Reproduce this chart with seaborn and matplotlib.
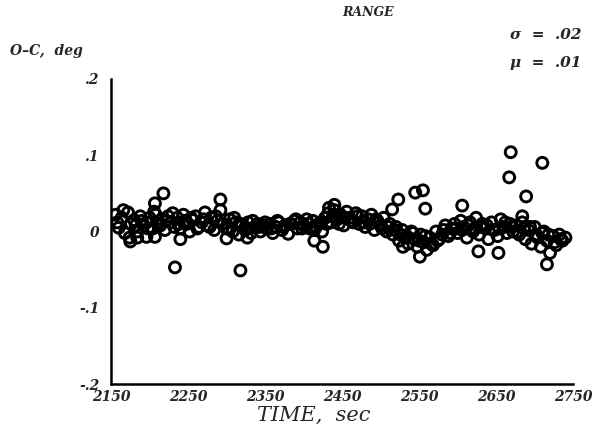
import numpy as np
import pandas as pd
import matplotlib
matplotlib.use("Agg")
import matplotlib.pyplot as plt
import seaborn as sns

# ---- data ----
band_t = [2156, 2160, 2164, 2168, 2172, 2176, 2180, 2184, 2188, 2192,
          2196, 2200, 2204, 2208, 2212, 2216, 2220, 2224, 2228, 2232,
          2236, 2240, 2244, 2248, 2252, 2256, 2260, 2264, 2268, 2272,
          2276, 2280, 2284, 2288, 2292, 2296, 2300, 2304, 2308, 2312,
          2316, 2320, 2324, 2328, 2332, 2336, 2340, 2344, 2348, 2352,
          2356, 2360, 2364, 2368, 2372, 2376, 2380, 2384, 2388, 2392,
          2396, 2400, 2404, 2408, 2412, 2416, 2420, 2424, 2428, 2432,
          2436, 2440, 2444, 2448, 2452, 2456, 2460, 2464, 2468, 2472,
          2476, 2480, 2484, 2488, 2492, 2496, 2500, 2504, 2508, 2512,
          2516, 2520, 2524, 2528, 2532, 2536, 2540, 2544, 2548, 2552,
          2556, 2560, 2564, 2568, 2572, 2576, 2580, 2584, 2588, 2592,
          2596, 2600, 2604, 2608, 2612, 2616, 2620, 2624, 2628, 2632,
          2636, 2640, 2644, 2648, 2652, 2656, 2660, 2664, 2668, 2672,
          2676, 2680, 2684, 2688, 2692, 2696, 2700, 2704, 2708, 2712,
          2716, 2720, 2724, 2728, 2732, 2736, 2740]
band_v = [0.022, 0.005, 0.018, -0.002, 0.025, 0.010, 0.015, 0.000, 0.020, 0.008,
          0.012, 0.018, 0.004, 0.022, 0.010, 0.016, 0.002, 0.020, 0.012, 0.006,
          0.018, 0.004, 0.022, 0.010, 0.000, 0.015, 0.020, 0.006, 0.012, 0.025,
          0.008, 0.018, 0.002, 0.014, 0.028, 0.010, 0.004, 0.016, 0.000, 0.012,
          -0.004, 0.008, 0.002, 0.012, -0.002, 0.006, 0.010, 0.000, 0.008, 0.004,
          0.010, -0.002, 0.006, 0.012, 0.002, 0.008, -0.003, 0.010, 0.014, 0.004,
          0.012, 0.008, 0.016, 0.004, 0.014, 0.006, 0.010, 0.000, 0.018, 0.024,
          0.012, 0.028, 0.016, 0.022, 0.008, 0.026, 0.018, 0.012, 0.024, 0.010,
          0.020, 0.006, 0.016, 0.022, 0.002, 0.014, 0.008, 0.018, 0.000, 0.010,
          -0.004, 0.006, -0.012, 0.002, -0.008, -0.016, 0.000, -0.010, -0.020, -0.004,
          -0.014, -0.024, -0.008, -0.018, 0.000, -0.010, -0.004, 0.008, -0.006, 0.004,
          0.010, -0.002, 0.014, 0.006, -0.008, 0.012, 0.000, 0.018, -0.004, 0.010,
          0.004, -0.010, 0.012, 0.002, -0.006, 0.016, 0.006, -0.002, 0.010, 0.000,
          0.008, -0.004, 0.012, -0.010, 0.002, -0.016, 0.006, -0.008, -0.020, 0.000,
          -0.012, -0.028, -0.006, -0.018, -0.004, -0.012, -0.008]

band2_t = [2158, 2166, 2174, 2182, 2190, 2198, 2206, 2214, 2222, 2230,
           2238, 2246, 2254, 2262, 2270, 2278, 2286, 2294, 2302, 2310,
           2318, 2326, 2334, 2342, 2350, 2358, 2366, 2374, 2382, 2390,
           2398, 2406, 2414, 2422, 2430, 2438, 2446, 2454, 2462, 2470,
           2478, 2486, 2494, 2502, 2510, 2518, 2526, 2534, 2542, 2550,
           2558, 2566, 2574, 2582, 2590, 2598, 2606, 2614, 2622, 2630,
           2638, 2646, 2654, 2662, 2670, 2678, 2686, 2694, 2702, 2710,
           2718, 2726, 2734]
band2_v = [0.012, 0.028, -0.008, 0.008, 0.014, 0.004, 0.026, 0.008, 0.014, 0.024,
           0.010, 0.014, 0.018, 0.004, 0.016, 0.006, 0.020, 0.010, 0.004, 0.018,
           0.010, 0.004, 0.014, 0.006, 0.012, 0.004, 0.014, 0.006, 0.010, 0.016,
           0.004, 0.010, 0.002, 0.012, 0.010, 0.020, 0.010, 0.018, 0.014, 0.020,
           0.012, 0.010, 0.016, 0.004, 0.006, 0.002, -0.004, -0.006, -0.002, -0.012,
           -0.006, -0.016, -0.012, 0.002, -0.002, 0.004, 0.002, 0.008, 0.004, 0.006,
           0.008, 0.002, 0.004, 0.012, 0.006, 0.000, 0.004, 0.006, -0.004, -0.002,
           -0.004, -0.014, -0.010]

outlier_t = [2218, 2207, 2233, 2318, 2292, 2240, 2425, 2669, 2710, 2667,
             2689, 2684, 2606, 2545, 2555, 2558, 2523, 2515, 2529, 2627,
             2653, 2716, 2551, 2175, 2184, 2196, 2207, 2300, 2327, 2433,
             2440, 2414]
outlier_v = [0.050, 0.037, -0.047, -0.051, 0.042, -0.010, -0.020, 0.104, 0.090, 0.071,
             0.046, 0.020, 0.034, 0.051, 0.054, 0.030, 0.042, 0.029, -0.020, -0.026,
             -0.028, -0.043, -0.033, -0.013, -0.008, -0.007, -0.007, -0.009, -0.008, 0.031,
             0.035, -0.012]

x_ticks = [2150, 2250, 2350, 2450, 2550, 2650, 2750]
x_ticklabels = ["2150", "2250", "2350", "2450", "2550", "2650", "2750"]
y_ticks = [-0.2, -0.1, 0, 0.1, 0.2]
y_ticklabels = ["-.2", "-.1", "0", ".1", ".2"]

df = pd.DataFrame({
    "t": band_t + band2_t + outlier_t,
    "v": band_v + band2_v + outlier_v,
})

sns.set_theme(style="white")
plt.rcParams["font.family"] = ["DejaVu Serif"]

fig = plt.figure(figsize=(5.97, 4.41), dpi=100)
ax = fig.add_axes([0.186, 0.129, 0.774, 0.692])

sns.scatterplot(data=df, x="t", y="v", ax=ax, marker="o", s=62,
                facecolors="none", edgecolor="black", linewidth=2.1,
                legend=False)

ax.set_xlim(2150, 2750)
ax.set_ylim(-0.2, 0.2)
ax.set_xticks(x_ticks)
ax.set_xticklabels(x_ticklabels)
ax.set_yticks(y_ticks)
ax.set_yticklabels(y_ticklabels)
for sp in ["top", "right"]:
    ax.spines[sp].set_visible(False)
for sp in ["left", "bottom"]:
    ax.spines[sp].set_color("black")
    ax.spines[sp].set_linewidth(1.8)
ax.tick_params(axis="both", direction="in", length=13, width=1.5,
               color="black", labelsize=10, pad=4)
ax.tick_params(axis="y", pad=8)
for lab in ax.get_xticklabels() + ax.get_yticklabels():
    lab.set_fontweight("bold")
    lab.set_fontstyle("italic")
ax.set_xlabel("")
ax.set_ylabel("")

fig.text(0.525, 0.057, "TIME,  sec", ha="center", va="center",
         fontsize=15, fontstyle="italic")
fig.text(0.617, 0.972, "RANGE", ha="center", va="center",
         fontsize=9, fontweight="bold", fontstyle="italic")
fig.text(0.017, 0.884, "O\u2013C,  deg", ha="left", va="center",
         fontsize=10, fontweight="bold", fontstyle="italic")
fig.text(0.855, 0.920, "\u03c3  =  .02", ha="left", va="center",
         fontsize=11, fontweight="bold", fontstyle="italic")
fig.text(0.855, 0.857, "\u03bc  =  .01", ha="left", va="center",
         fontsize=11, fontweight="bold", fontstyle="italic")

fig.savefig("out.png", dpi=100, facecolor="white")
